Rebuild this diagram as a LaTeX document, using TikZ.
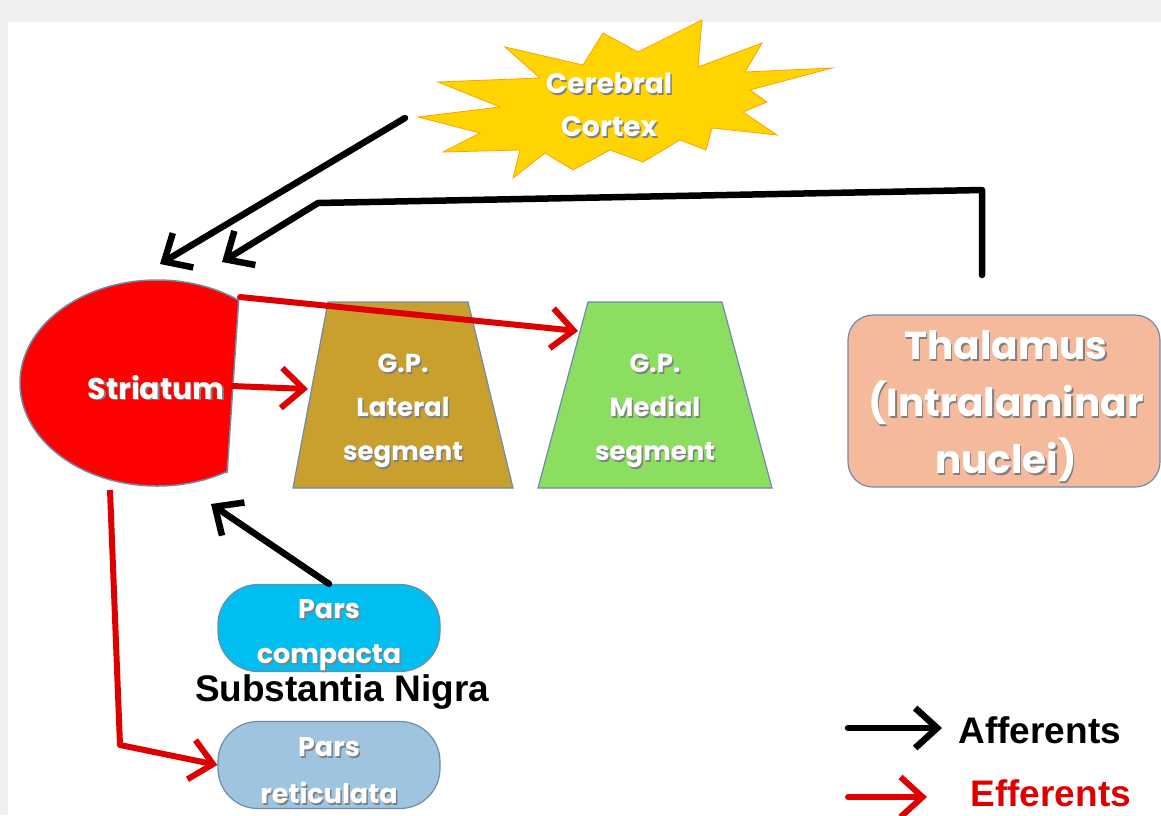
\documentclass[tikz,border=0pt]{standalone}
\usepackage{fontspec}
\setmainfont{Poppins}
\newfontfamily\arialfont{Liberation Sans}
\usetikzlibrary{arrows.meta}

\definecolor{stred}{RGB}{255,0,0}
\definecolor{effred}{RGB}{222,0,0}
\definecolor{gplat}{RGB}{201,160,46}
\definecolor{gpmed}{RGB}{140,222,96}
\definecolor{thal}{RGB}{245,186,155}
\definecolor{compacta}{RGB}{0,190,240}
\definecolor{reticulata}{RGB}{158,196,224}
\definecolor{rim}{RGB}{110,140,170}
\definecolor{starY}{RGB}{255,212,0}

% white text with a soft dark shadow
\newcommand{\shtxt}[1]{\leavevmode\rlap{\kern1.5pt\raisebox{-1.8pt}{\textcolor{black!50}{#1}}}#1}

\tikzset{
  whitetext/.style={text=white, align=center, font=\bfseries\fontsize{30}{44}\selectfont},
  capsule/.style={draw=rim, line width=1.2pt, rounded corners=40pt,
    minimum width=222pt, minimum height=87pt, inner sep=0pt},
  gpbox/.style={draw=rim, line width=1.2pt},
  aff/.style={draw=black, line width=6.5pt, line cap=round, line join=round,
    -{Straight Barb[length=22pt,width=40pt]}},
  eff/.style={aff, draw=effred, line width=6pt},
  legendtext/.style={font=\arialfont\bfseries\fontsize{37}{42}\selectfont, anchor=west}
}

\begin{document}
\begin{tikzpicture}[x=1pt,y=-1pt]
    \useasboundingbox (0,0) rectangle (1161,815);
    % faint backdrop round the slide
    \fill[black!6] (0,0) rectangle (1161,815);
    \fill[white] (8,22) rectangle (1161,815);

    % cortex star
    \filldraw[fill=starY, draw=orange!60!starY, line width=0.8pt]
      (418,117) -- (500,107) -- (438,82) -- (540,78) -- (505,47) -- (583,65)
      -- (603,33) -- (638,52) -- (702,20) -- (698,67) -- (762,43) -- (745,72)
      -- (832,68) -- (750,90) -- (767,102) -- (743,112) -- (777,135)
      -- (712,128) -- (706,150) -- (680,140) -- (643,162) -- (610,150)
      -- (573,170) -- (545,153) -- (513,178) -- (520,150) -- (443,152)
      -- (480,133) -- cycle;
    \node[whitetext, font=\bfseries\fontsize{28}{43}\selectfont] (cortex) at (609,106)
      {\shtxt{Cerebral}\\\shtxt{Cortex}};

    % striatum, an ellipse cut flat on its right side
    \begin{scope}
      \clip (0,250) -- (242,250) -- (224,520) -- (0,520) -- cycle;
      \filldraw[fill=stred, draw=rim, line width=1.5pt] (157,383) ellipse [x radius=137, y radius=103];
    \end{scope}
    \draw[rim, line width=1.5pt] (238.9,297) -- (227.1,473);
    \node[whitetext] (striatum) at (156,388) {\shtxt{Striatum}};

    % globus pallidus
    \filldraw[gpbox, fill=gplat] (328,302) -- (468,302) -- (513,488) -- (293,488) -- cycle;
    \node[whitetext, font=\bfseries\fontsize{26}{44}\selectfont] (gplat) at (403,412)
      {\shtxt{G.P.}\\\shtxt{Lateral}\\\shtxt{segment}};
    \filldraw[gpbox, fill=gpmed] (588,302) -- (722,302) -- (772,488) -- (538,488) -- cycle;
    \node[whitetext, font=\bfseries\fontsize{26}{44}\selectfont] (gpmed) at (655,412)
      {\shtxt{G.P.}\\\shtxt{Medial}\\\shtxt{segment}};

    % thalamus
    \node[draw=rim, line width=1.2pt, fill=thal, rounded corners=25pt,
      minimum width=312pt, minimum height=172pt] (thal) at (1004,401) {};
    \node[whitetext, font=\bfseries\fontsize{39}{57}\selectfont] (thaltext) at (1006,407)
      {\shtxt{Thalamus}\\\shtxt{(Intralaminar}\\\shtxt{nuclei)}};

    % substantia nigra
    \node[capsule, fill=compacta] (compacta) at (329,628) {};
    \node[whitetext, font=\bfseries\fontsize{27}{45}\selectfont] at (329,636)
      {\shtxt{Pars}\\\shtxt{compacta}};
    \node[font=\arialfont\bfseries\fontsize{37}{42}\selectfont] (nigra) at (342,692) {Substantia Nigra};
    \node[capsule, fill=reticulata] (reticulata) at (329,765) {};
    \node[whitetext, font=\bfseries\fontsize{27}{47}\selectfont] at (329,772)
      {\shtxt{Pars}\\\shtxt{reticulata}};

    % connector ends
    \coordinate (cortexout) at (405,118);
    \coordinate (thalout) at (982,275);
    \coordinate (strtop) at (160,264);
    \coordinate (strtop2) at (222,262);
    \coordinate (strbot) at (211,504);
    \coordinate (strright) at (232,386);
    \coordinate (strcorner) at (240,297);
    \coordinate (strfoot) at (110,490);
    \coordinate (gplatin) at (308,389);
    \coordinate (gpmedin) at (578,331);

    % afferents
    \draw[aff] (cortexout) -- (strtop);
    \draw[aff] (thalout) -- (982,190) -- (318,203) -- (strtop2);
    \draw[aff] (compacta.north) -- (strbot);

    % efferents
    \draw[eff] (strright) -- (gplatin);
    \draw[eff] (strcorner) -- (gpmedin);
    \draw[eff, line cap=butt] (strfoot) -- (120,745) -- (reticulata.west);

    % legend
    \node[legendtext] (afftext) at (955,730) {Afferents};
    \node[legendtext, text=effred] (efftext) at (967,793) {Efferents};
    \coordinate (legaff) at (848,728);
    \coordinate (legeff) at (848,797);
    \draw[aff] (legaff) -- (afftext.west |- legaff) [shorten >=13pt];
    \draw[eff] (legeff) -- (efftext.west |- legeff) [shorten >=40pt];
\end{tikzpicture}
\end{document}
